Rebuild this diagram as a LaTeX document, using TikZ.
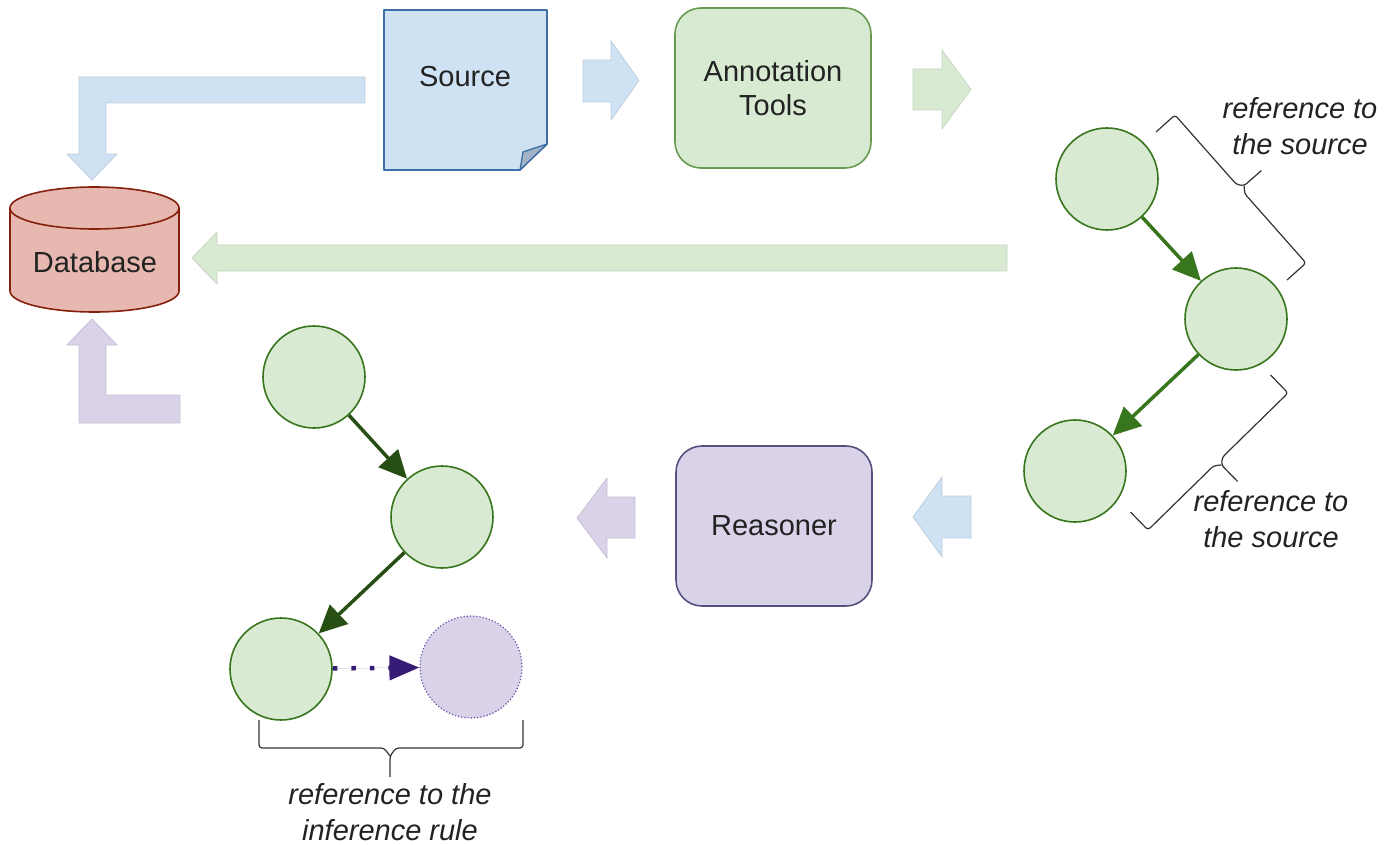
\documentclass[tikz,border=0pt]{standalone}
\usepackage{fontspec}
\setmainfont{Liberation Sans}
\usetikzlibrary{arrows.meta}
\definecolor{bluefill}{HTML}{CFE2F3}
\definecolor{bluestroke}{HTML}{3D6FA5}
\definecolor{greenfill}{HTML}{D9EAD3}
\definecolor{greenstroke}{HTML}{6A9A50}
\definecolor{circstroke}{HTML}{38761D}
\definecolor{chainright}{HTML}{38761D}
\definecolor{chainleft}{HTML}{274E13}
\definecolor{purplefill}{HTML}{D9D2E9}
\definecolor{purplestroke}{HTML}{56517E}
\definecolor{dotpurple}{HTML}{674EA7}
\definecolor{darkpurple}{HTML}{351C75}
\definecolor{redfill}{HTML}{E6B8AF}
\definecolor{redstroke}{HTML}{85200C}
\definecolor{foldfill}{HTML}{A4B4C6}
\definecolor{textgray}{HTML}{222222}
\tikzset{
  lbl/.style={font=\fontsize{29}{34}\selectfont, text=textgray, align=center, inner sep=0pt},
  ital/.style={font=\fontsize{29}{36}\selectfont\itshape, text=textgray, align=center, inner sep=0pt},
  roundbox/.style={draw, line width=1.6pt, rounded corners=26pt, minimum width=196pt, minimum height=160pt, inner sep=0pt},
  gcirc/.style={circle, draw=circstroke, fill=greenfill, line width=1.6pt, minimum size=102pt, inner sep=0pt},
  pcirc/.style={circle, draw=dotpurple, fill=purplefill, line width=1.2pt, dotted, minimum size=102pt, inner sep=0pt},
  blockarrow/.style={line width=0.8pt},
  chainarrow/.style={line width=3.5pt, -{Triangle[length=28pt,width=26pt]}},
  bracket/.style={draw=black!80, line width=1.2pt, rounded corners=3pt},
}
\begin{document}
\begin{tikzpicture}[x=1pt,y=-1pt]
\useasboundingbox (0,0) rectangle (1395,845);

% ---------- block arrows ----------
% blue L arrow Source -> Database
\fill[bluefill, draw=bluefill!80!gray, blockarrow] (365,77) -- (79,77) -- (79,154) -- (67,154) -- (92,180) -- (117,154) -- (106,154) -- (106,103) -- (365,103) -- cycle;
% blue right arrow Source -> Annotation
\fill[bluefill, draw=bluefill!80!gray, blockarrow] (583,60) -- (611,60) -- (611,41) -- (639,80.5) -- (611,120) -- (611,102) -- (583,102) -- cycle;
% green right arrow Annotation ->
\fill[greenfill, draw=greenfill!80!gray, blockarrow] (913,69) -- (942,69) -- (942,50) -- (971,89.5) -- (942,129) -- (942,110) -- (913,110) -- cycle;
% long green arrow -> Database
\fill[greenfill, draw=greenfill!80!gray, blockarrow] (1007,245) -- (217,245) -- (217,232) -- (192,258) -- (217,284) -- (217,271) -- (1007,271) -- cycle;
% purple L arrow -> Database
\fill[purplefill, draw=purplefill!80!gray, blockarrow] (180,395) -- (106,395) -- (106,345) -- (117,345) -- (92,319) -- (67,345) -- (79,345) -- (79,423) -- (180,423) -- cycle;
% blue left arrow -> Reasoner
\fill[bluefill, draw=bluefill!80!gray, blockarrow] (971,496) -- (942,496) -- (942,477) -- (913,517) -- (942,557) -- (942,538) -- (971,538) -- cycle;
% purple left arrow from Reasoner
\fill[purplefill, draw=purplefill!80!gray, blockarrow] (635,497) -- (607,497) -- (607,478) -- (577,518) -- (607,558) -- (607,538) -- (635,538) -- cycle;

% ---------- Source document ----------
\draw[fill=bluefill, draw=bluestroke, line width=1.6pt, line join=round] (384,10) -- (547,10) -- (547,144) -- (520,170) -- (384,170) -- cycle;
\draw[fill=foldfill, draw=bluestroke, line width=1.3pt, line join=round] (520,170) -- (523,152) -- (547,144) -- cycle;
\node[lbl] (source) at (465,77) {Source};

% ---------- Annotation Tools ----------
\node[roundbox, draw=greenstroke, fill=greenfill, lbl, minimum width=196pt, minimum height=160pt] (annot) at (773,88) {Annotation\\Tools};

% ---------- Database ----------
\draw[fill=redfill, draw=redstroke, line width=1.6pt] (10,208) -- (10,291) arc[start angle=180, end angle=0, x radius=84.5, y radius=21] -- (179,208) arc[start angle=360, end angle=180, x radius=84.5, y radius=21] -- cycle;
\draw[draw=redstroke, line width=1.6pt] (10,208) arc[start angle=180, end angle=0, x radius=84.5, y radius=21];
\node[lbl] (db) at (95,262) {Database};

% ---------- Reasoner ----------
\node[roundbox, draw=purplestroke, fill=purplefill, lbl] (reasoner) at (774,526) {Reasoner};

% ---------- right chain ----------
\node[gcirc] (ra) at (1107,179) {};
\node[gcirc] (rb) at (1236,319) {};
\node[gcirc] (rc) at (1075,471) {};
\draw[chainarrow, draw=chainright, fill=chainright] (ra) -- (rb);
\draw[chainarrow, draw=chainright, fill=chainright] (rb) -- (rc);

% brackets (right)
\draw[bracket] (1156,132) -- (1175,115) -- (1236.5,184.5) -- (1244.2,185.7) -- (1261.4,170.5);
\draw[bracket] (1244.2,185.7) -- (1244.5,193.5) -- (1306,263) -- (1287,280);
\draw[bracket] (1270.5,375) -- (1288,393) -- (1222.3,457.3) -- (1221.5,465) -- (1237.6,481.5);
\draw[bracket] (1221.5,465) -- (1213.7,465.7) -- (1148,530) -- (1130.5,512);
\node[ital] (t1) at (1300,126) {reference to\\the source};
\node[ital] (t2) at (1271,519) {reference to\\the source};

% ---------- left chain ----------
\node[gcirc] (la) at (314,377) {};
\node[gcirc] (lb) at (442,517) {};
\node[gcirc] (lc) at (281,669) {};
\node[pcirc] (ld) at (471,667) {};
\draw[chainarrow, draw=chainleft, fill=chainleft] (la) -- (lb);
\draw[chainarrow, draw=chainleft, fill=chainleft] (lb) -- (lc);
\draw[draw=darkpurple, line width=4.5pt, dash pattern=on 4.5pt off 14pt, -{Triangle[length=30pt,width=24pt]}, fill=darkpurple, shorten <=0pt] (lc) -- (ld);

% bracket (bottom)
\draw[bracket] (259,720) -- (259,748) -- (384,748) -- (390,756);
\draw[bracket] (390,777) -- (390,756) -- (396,748) -- (523,748) -- (523,720);
\node[ital] (t3) at (390,812) {reference to the\\inference rule};
\end{tikzpicture}
\end{document}
